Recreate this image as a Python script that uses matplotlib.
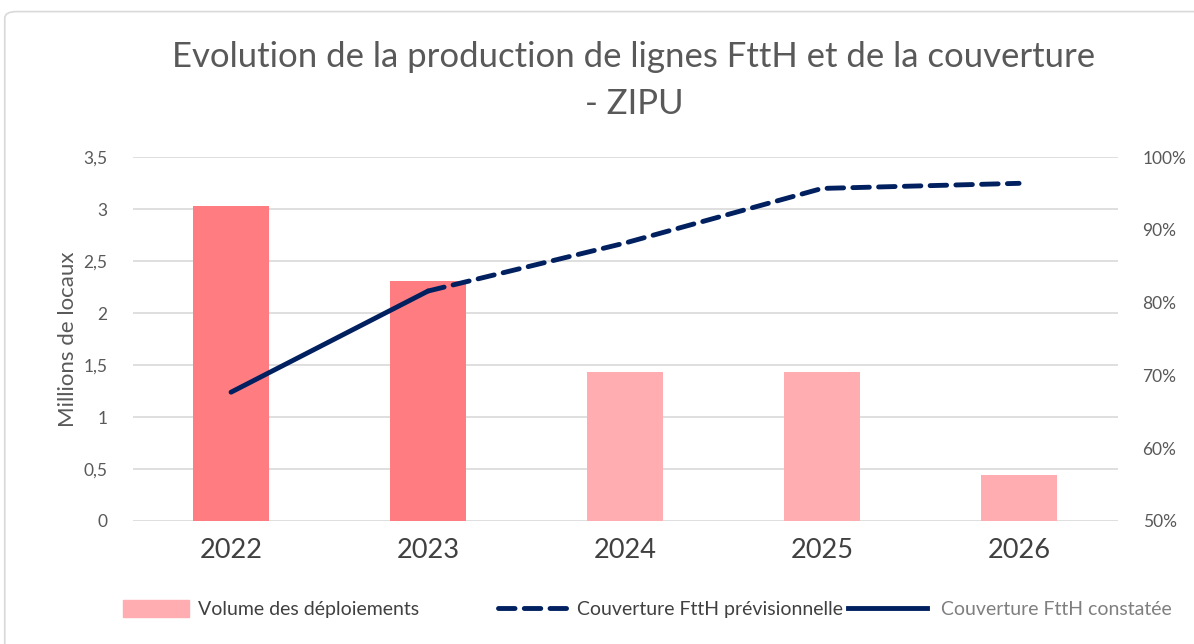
import matplotlib
matplotlib.use('Agg')
import matplotlib.pyplot as plt
import numpy as np
from matplotlib.lines import Line2D
from matplotlib.patches import Patch, FancyBboxPatch
from matplotlib.ticker import FuncFormatter

plt.rcParams['font.family'] = ['Lato', 'DejaVu Sans']

years = ['2022', '2023', '2024', '2025', '2026']
volume = [3.03, 2.31, 1.43, 1.43, 0.44]       # millions de locaux
bar_colors = ['#FF7C80', '#FF7C80', '#FFADB0', '#FFADB0', '#FFADB0']
couv_constatee = [0.677, 0.816, np.nan, np.nan, np.nan]
couv_prev = [np.nan, 0.816, 0.882, 0.957, 0.964]

grey = '#595959'
navy = '#002060'
dash = (0, (3.4, 1.9))

fig = plt.figure(figsize=(11.94, 6.44), dpi=100)
fig.patches.append(FancyBboxPatch((0.004, -0.05), 1.2, 1.032,
                                  boxstyle='round,pad=0,rounding_size=0.01',
                                  transform=fig.transFigure, fill=False,
                                  edgecolor='#D9D9D9', linewidth=1.2))
ax = fig.add_axes([0.111, 0.191, 0.825, 0.565])
x = np.arange(len(years))

ax.bar(x, volume, width=0.39, color=bar_colors, zorder=2)
ax.set_ylim(0, 3.5)
ax.set_yticks(np.arange(0, 3.51, 0.5))
ax.yaxis.set_major_formatter(FuncFormatter(lambda v, p: ('%g' % v).replace('.', ',')))
ax.set_xlim(-0.5, len(years) - 0.5)
ax.set_xticks(x)
ax.set_xticklabels(years, fontsize=19.5, color='#404040')
ax.grid(axis='y', color='#D9D9D9', linewidth=1.2, zorder=0)
ax.set_axisbelow(True)
for s in ax.spines.values():
    s.set_visible(False)
ax.tick_params(axis='y', length=0, labelsize=12.5, labelcolor=grey, pad=18)
ax.tick_params(axis='x', length=0, pad=12)
ax.set_ylabel('Millions de locaux', fontsize=16, color=grey, labelpad=4)

ax2 = ax.twinx()
ax2.plot(x, couv_prev, color=navy, linewidth=3.5, linestyle=dash,
         dash_capstyle='round', zorder=3)
ax2.plot(x, couv_constatee, color=navy, linewidth=3.5, solid_capstyle='round', zorder=4)
ax2.set_ylim(0.5, 1.0)
ax2.set_yticks(np.arange(0.5, 1.001, 0.1))
ax2.yaxis.set_major_formatter(FuncFormatter(lambda v, p: '%d%%' % round(v * 100)))
for s in ax2.spines.values():
    s.set_visible(False)
ax2.tick_params(axis='y', length=0, labelsize=12.5, labelcolor=grey, pad=18)

fig.text(0.531, 0.912, 'Evolution de la production de lignes FttH et de la couverture',
         ha='center', va='center', fontsize=25, color=grey)
fig.text(0.531, 0.838, '- ZIPU', ha='center', va='center', fontsize=25, color=grey)

entries = [(Patch(color='#FFADB0'), 'Volume des déploiements', '#404040', 0.103, 3.4, 0.45),
           (Line2D([], [], color=navy, linewidth=3.5, linestyle=dash,
                   dash_capstyle='round'), 'Couverture FttH prévisionnelle', '#404040',
            0.417, 3.6, 0.45),
           (Line2D([], [], color=navy, linewidth=3.5), 'Couverture FttH constatée',
            '#7F7F7F', 0.710, 4.1, 0.7)]
for h, lab, col, xpos, hl, tp in entries:
    leg = fig.legend([h], [lab], loc='center left', bbox_to_anchor=(xpos, 0.054),
                     frameon=False, fontsize=14, handlelength=hl, handleheight=1.0,
                     handletextpad=tp, borderaxespad=0, borderpad=0)
    leg.get_texts()[0].set_color(col)

fig.savefig('out.png', dpi=100)
